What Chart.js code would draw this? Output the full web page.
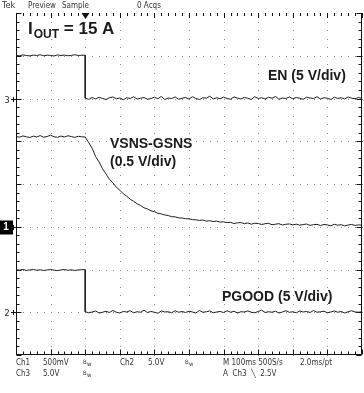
<!DOCTYPE html>
<html><head><meta charset="utf-8">
<script src="https://cdn.jsdelivr.net/npm/chart.js@4/dist/chart.umd.min.js"></script>
<style>html,body{margin:0;padding:0;background:#fff}canvas{display:block}</style>
</head><body>
<canvas id="scope" width="364" height="393"></canvas>
<script>
// sample spacing and trigger point, in horizontal divisions (100 ms/div)
const DT = 0.1;
const TRIG = 2.0;

// EN, volts (5 V/div)
const en = [
  5.06,5.0,5.1,5.03,4.98,5.08,5.03,5.12,5.0,5.07,5.04,4.97,5.1,5.03,5.08,5.0,5.04,5.12,5.03,5.06,
  0.03,-0.09,0.12,-0.06,0.15,0.0,-0.12,0.09,0.18,-0.03,
  0.06,-0.15,0.09,0.0,0.21,-0.06,0.03,0.12,-0.09,0.0,
  0.15,-0.03,0.24,-0.12,0.06,0.0,0.18,-0.09,0.03,0.12,
  -0.06,0.21,0.0,-0.12,0.09,0.03,0.27,-0.06,0.09,-0.03,
  0.15,0.0,-0.09,0.18,0.06,-0.06,0.12,0.03,-0.12,0.21,
  0.0,0.09,-0.06,0.15,0.03,0.24,-0.09,0.06,0.0,0.18,
  -0.03,0.12,0.03,-0.09,0.15,0.06,0.0,0.21,-0.06,0.09,
  0.03,-0.12,0.15,0.0,0.09,-0.06,0.18,0.03,-0.03,0.12,
  0.0
];

// VSNS-GSNS, volts (0.5 V/div)
const vsns = [
  1.055,1.048,1.062,1.052,1.044,1.06,1.05,1.066,1.047,1.056,1.07,1.052,1.046,1.061,1.05,1.064,1.055,1.045,1.058,1.052,
  1.05,0.985,0.918,0.822,0.758,0.678,0.618,0.556,0.514,0.462,
  0.428,0.386,0.358,0.322,0.298,0.268,0.248,0.222,0.208,0.186,
  0.176,0.158,0.15,0.138,0.131,0.118,0.116,0.104,0.102,0.094,
  0.092,0.084,0.081,0.074,0.079,0.066,0.07,0.061,0.066,0.054,
  0.058,0.048,0.052,0.038,0.046,0.049,0.036,0.044,0.03,0.041,
  0.038,0.026,0.035,0.04,0.024,0.03,0.036,0.02,0.029,0.033,
  0.022,0.03,0.018,0.026,0.032,0.016,0.024,0.028,0.014,0.027,
  0.021,0.012,0.028,0.018,0.024,0.01,0.02,0.027,0.015,0.022,
  0.018
];

// PGOOD, volts (5 V/div)
const pgood = [
  4.97,4.92,5.01,4.89,4.95,5.0,4.91,4.97,4.88,4.95,4.99,4.92,4.87,4.95,5.0,4.91,4.96,4.89,4.95,4.98,
  0.06,-0.06,0.03,0.15,-0.09,0.0,0.12,-0.03,0.21,0.0,
  -0.09,0.09,0.03,0.18,-0.06,0.06,0.0,0.24,-0.03,0.09,
  0.0,-0.12,0.15,0.03,0.06,-0.06,0.18,0.0,0.09,-0.03,
  0.12,0.03,-0.09,0.21,0.0,0.06,0.15,-0.06,0.03,0.09,
  -0.03,0.18,0.0,0.12,-0.09,0.06,0.03,0.15,0.0,-0.06,
  0.09,0.24,-0.03,0.06,0.0,0.12,-0.09,0.03,0.18,0.0,
  0.06,-0.06,0.15,0.03,0.09,-0.03,0.21,0.0,0.06,0.12,
  -0.06,0.03,0.15,0.0,0.09,-0.09,0.06,0.18,0.03,0.0,
  0.06
];

const chNames = ['EN','VSNS-GSNS','PGOOD'];
const chMarker = ['3','1','2'];
const voltsPerDiv = [5, 0.5, 5];
const groundDiv = [6, 3, 1];
const hasEdge = [true, false, true];

function toPoints(vals, ch){
  const pts = vals.map((v,i)=>({x:i*DT, y:groundDiv[ch]+v/voltsPerDiv[ch]}));
  if(hasEdge[ch]){
    const i = Math.round(TRIG/DT);
    pts.splice(i,0,{x:TRIG, y:pts[i-1].y});
  }
  return pts;
}

const NARROW = "'Liberation Sans Narrow','DejaVu Sans Condensed',sans-serif";
const BOLD = "bold 14px 'Liberation Sans',Arial,sans-serif";

const graticule = {
  id:'graticule',
  beforeDatasetsDraw(chart){
    const {ctx} = chart;
    const xs = chart.scales.x, ys = chart.scales.y;
    const px = v=>Math.round(xs.getPixelForValue(v));
    const py = v=>Math.round(ys.getPixelForValue(v));
    ctx.save();
    // dotted division lines
    ctx.fillStyle = '#8a8a8a';
    for(let j=1;j<8;j++) for(let k=0;k<=50;k++) ctx.fillRect(px(k*0.2), py(j), 1, 1);
    for(let i=1;i<10;i++) for(let k=0;k<=40;k++) ctx.fillRect(px(i), py(k*0.2), 1, 1);
    // frame
    ctx.strokeStyle = '#111'; ctx.lineWidth = 1;
    const L = px(0)+0.5, R = px(10)-0.5, T = py(8), B = py(0)-0.5;
    ctx.beginPath();
    ctx.moveTo(L,T+3); ctx.lineTo(L,B); ctx.lineTo(R,B); ctx.lineTo(R,T);
    ctx.stroke();
    ctx.beginPath();
    for(let k=0;k<=50;k++){
      const x = px(k*0.2)+0.5, len = k%5===0 ? 5 : 3;
      ctx.moveTo(x,B); ctx.lineTo(x,B-len);
      ctx.moveTo(x,T); ctx.lineTo(x,T+len);
    }
    for(let k=0;k<=40;k++){
      const y = py(k*0.2)+0.5, len = k%5===0 ? 5 : 3;
      ctx.moveTo(L,y); ctx.lineTo(L+len,y);
      ctx.moveTo(R,y); ctx.lineTo(R-len,y);
    }
    ctx.stroke();
    ctx.restore();
  },
  afterDraw(chart){
    const {ctx} = chart;
    const xs = chart.scales.x, ys = chart.scales.y;
    const px = v=>Math.round(xs.getPixelForValue(v));
    const py = v=>Math.round(ys.getPixelForValue(v));
    ctx.save();
    // trigger position marker
    const tx = px(TRIG)+0.5, T = py(8);
    ctx.fillStyle = '#111';
    ctx.beginPath(); ctx.moveTo(tx-4,T); ctx.lineTo(tx+4,T); ctx.lineTo(tx,T+6); ctx.closePath(); ctx.fill();

    // channel ground markers
    chMarker.forEach((m,ch)=>{
      const y = py(groundDiv[ch])+0.5;
      ctx.font = "9px "+NARROW; ctx.textBaseline='middle'; ctx.textAlign='center';
      if(m==='1'){
        ctx.fillStyle='#000'; ctx.fillRect(0,y-7,13,14);
        ctx.fillStyle='#fff'; ctx.font = "bold 10px 'Liberation Sans',sans-serif";
        ctx.fillText(m,6,y);
      } else {
        ctx.fillStyle='#222'; ctx.fillText(m,7,y+1);
      }
      ctx.strokeStyle='#111'; ctx.lineWidth=1;
      ctx.beginPath(); ctx.moveTo(11,y); ctx.lineTo(21,y); ctx.stroke();
      ctx.beginPath(); ctx.moveTo(13.5,y-2.5); ctx.lineTo(13.5,y+2.5); ctx.stroke();
    });

    // status lines
    ctx.fillStyle='#333'; ctx.textAlign='left'; ctx.textBaseline='middle';
    ctx.font = "9px "+NARROW;
    ctx.fillText('Tek',2,6);
    ctx.font = "8px "+NARROW;
    [['Preview',28],['Sample',62],['0 Acqs',137]].forEach(([s,x])=>ctx.fillText(s,x,6));
    const row1 = 363, row2 = 374;
    [['Ch1',16],['500mV',43],['Ch2',120],['5.0V',148],['M 100ms 500S/s',223],['2.0ms/pt',300]].forEach(([s,x])=>ctx.fillText(s,x,row1));
    [['Ch3',16],['5.0V',43],['A  Ch3  \u2572  2.5V',223]].forEach(([s,x])=>ctx.fillText(s,x,row2));
    ctx.font = "6px "+NARROW;
    [[83,row1],[185,row1],[83,row2]].forEach(([x,y])=>{ctx.fillText('B',x,y-1); ctx.fillText('w',x+4,y+1);});

    // annotations
    ctx.fillStyle='#1a1a1a';
    ctx.font = "bold 17px 'Liberation Sans',Arial,sans-serif";
    ctx.textBaseline='alphabetic';
    ctx.fillText('I',28,34);
    const iw = ctx.measureText('I').width;
    ctx.font = "bold 12px 'Liberation Sans',Arial,sans-serif";
    ctx.fillText('OUT',28+iw+1,38);
    const ow = ctx.measureText('OUT').width;
    ctx.font = "bold 17px 'Liberation Sans',Arial,sans-serif";
    ctx.fillText(' = 15 A',28+iw+1+ow,34);

    ctx.font = BOLD;
    ctx.fillText(chNames[0]+' (5 V/div)',268,80);
    ctx.fillText(chNames[1],110,148);
    ctx.fillText('(0.5 V/div)',110,166);
    ctx.fillText(chNames[2]+' (5 V/div)',222,301);
    ctx.restore();
  }
};

new Chart(document.getElementById('scope'),{
  type:'line',
  data:{datasets:[en,vsns,pgood].map((vals,ch)=>({
    label:chNames[ch],
    data:toPoints(vals,ch),
    borderColor:'#1e1e1e',
    borderWidth:1,
    pointRadius:0,
    tension:0
  }))},
  options:{
    responsive:false, animation:false,
    layout:{padding:{left:16,right:2,top:13,bottom:38}},
    plugins:{legend:{display:false},tooltip:{enabled:false}},
    scales:{
      x:{type:'linear',min:0,max:10,display:false},
      y:{min:0,max:8,display:false}
    }
  },
  plugins:[graticule]
});
</script>
</body></html>
